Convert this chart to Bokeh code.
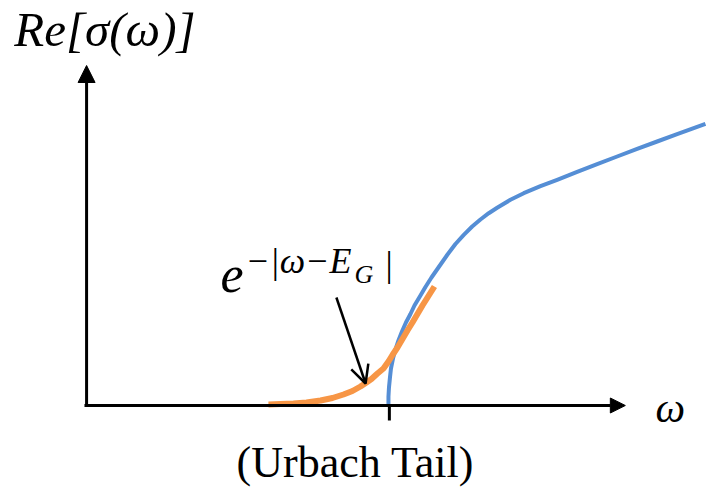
from bokeh.plotting import figure
from bokeh.models import Range1d, Arrow, NormalHead, OpenHead
from bokeh.core.properties import value
from bokeh.embed import file_html
from bokeh.resources import INLINE

# Photon energy in units of the gap (E_G = 1) and Re[sigma] in arbitrary units
omega_band = [1.0000, 1.0000, 1.0017, 1.0050, 1.0083, 1.0150, 1.0233, 1.0332, 1.0449,
              1.0581, 1.0731, 1.0864, 1.1063, 1.1229, 1.1429, 1.1661, 1.1950, 1.2226,
              1.2502, 1.2781, 1.3056, 1.3332, 1.3611, 1.4053, 1.4495, 1.5050, 1.5605,
              1.6269, 1.6934, 1.7598, 1.8262, 1.8927, 1.9591, 2.0532]
sigma_band = [0.000, 0.090, 0.180, 0.280, 0.370, 0.470, 0.560, 0.650, 0.740,
              0.830, 0.915, 1.000, 1.100, 1.185, 1.280, 1.380, 1.505, 1.615,
              1.707, 1.790, 1.860, 1.923, 1.977, 2.057, 2.123, 2.193, 2.257,
              2.337, 2.413, 2.490, 2.567, 2.640, 2.713, 2.817]

# Exponential (Urbach) absorption tail below the gap
omega_tail = [0.6013, 0.6412, 0.6844, 0.7276, 0.7741, 0.8140, 0.8505, 0.8804, 0.9070,
              0.9269, 0.9435, 0.9635, 0.9834, 1.0000, 1.0133, 1.0299, 1.0465, 1.0631,
              1.0797, 1.0963, 1.1130, 1.1329, 1.1528]
sigma_tail = [0.010, 0.014, 0.020, 0.030, 0.050, 0.075, 0.110, 0.145, 0.190,
              0.230, 0.265, 0.320, 0.370, 0.440, 0.505, 0.580, 0.665, 0.750,
              0.830, 0.915, 1.000, 1.095, 1.190]

E_G = 1.0
y_label = "Re[σ(ω)]"
x_label = "ω"
caption = "(Urbach Tail)"
tail_base = "e"
tail_exp = "−|ω−E"
tail_sub = "G"
tail_close = "|"

BLUE = "#558ED5"
ORANGE = "#F79646"
SERIF = value("Liberation Serif")

# the svg text baseline sits ~0.35em lower than the alphabetic anchor; lift labels by that much
def lift(size_px):
    return 0.35 * size_px / 100.0

p = figure(width=707, height=492, output_backend="svg", toolbar_location=None,
           x_range=Range1d(-0.289, 2.060), y_range=Range1d(-0.87, 4.05),
           x_axis_location=None, y_axis_location=None, min_border=0)
p.outline_line_color = None
p.xgrid.visible = False
p.ygrid.visible = False
p.background_fill_color = "white"
p.border_fill_color = "white"

# hand-drawn axes with arrow heads
p.add_layout(Arrow(end=NormalHead(size=15, fill_color="black", line_color="black", line_width=1),
                   x_start=-0.010, y_start=0.0, x_end=1.787, y_end=0.0,
                   line_color="black", line_width=3))
p.add_layout(Arrow(end=NormalHead(size=17, fill_color="black", line_color="black", line_width=1),
                   x_start=-0.003, y_start=0.0, x_end=-0.003, y_end=3.40,
                   line_color="black", line_width=3))
# gap marker
p.segment(x0=[E_G + 0.003], y0=[0.0], x1=[E_G + 0.003], y1=[-0.15],
          line_color="black", line_width=3)

p.line(omega_band, sigma_band, line_color=BLUE, line_width=4, line_join="round")
p.line(omega_tail, sigma_tail, line_color=ORANGE, line_width=6, line_join="round")

# pointer to the tail
p.add_layout(Arrow(end=OpenHead(size=18, line_color="black", line_width=2.5),
                   x_start=0.827, y_start=1.08, x_end=0.924, y_end=0.22,
                   line_color="black", line_width=2.5))

p.text(x=[-0.243], y=[3.59 + lift(49)], text=[y_label], text_font=SERIF, text_font_style="italic",
       text_font_size="49px", text_baseline="alphabetic", text_color="black")
p.text(x=[1.887], y=[-0.17 + lift(42)], text=[x_label], text_font=SERIF, text_font_style="italic",
       text_font_size="42px", text_baseline="alphabetic", text_color="black")
p.text(x=[0.890], y=[-0.72 + lift(44)], text=[caption], text_font=SERIF,
       text_font_size="44px", text_align="center", text_baseline="alphabetic", text_color="black")

p.text(x=[0.442], y=[1.13 + lift(52)], text=[tail_base], text_font=SERIF, text_font_style="italic",
       text_font_size="52px", text_baseline="alphabetic", text_color="black")
p.text(x=[0.525], y=[1.32 + lift(36)], text=[tail_exp], text_font=SERIF, text_font_style="italic",
       text_font_size="36px", text_baseline="alphabetic", text_color="black")
p.text(x=[0.887], y=[1.22 + lift(26)], text=[tail_sub], text_font=SERIF, text_font_style="italic",
       text_font_size="26px", text_baseline="alphabetic", text_color="black")
p.text(x=[0.990], y=[1.29 + lift(36)], text=[tail_close], text_font=SERIF,
       text_font_size="36px", text_baseline="alphabetic", text_color="black")

open("out.html", "w").write(file_html(p, INLINE))
